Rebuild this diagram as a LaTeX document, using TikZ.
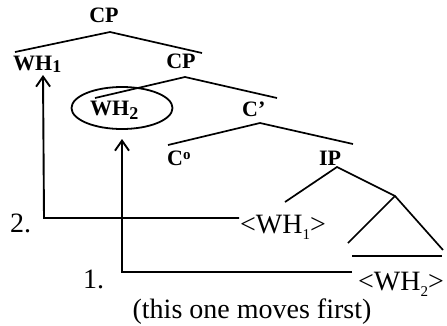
\documentclass[tikz,border=0pt]{standalone}
\usepackage{fontspec}
\setmainfont{Liberation Serif}
\usetikzlibrary{arrows.meta,shapes.geometric}
\begin{document}
\begin{tikzpicture}[x=1pt,y=-1pt,
  bold/.style={font=\fontsize{22}{22}\selectfont\bfseries, inner sep=0pt},
  plain/.style={font=\fontsize{28}{28}\selectfont, inner sep=0pt},
  branch/.style={line width=1.7pt},
  movearrow/.style={line width=1.9pt, -{Straight Barb[length=10pt,width=14pt]}}]
\useasboundingbox (0,0) rectangle (447,325);
% category labels
\node[bold, anchor=base] (cp1) at (104,22) {CP};
\node[bold, anchor=base west] (wh1) at (13,70) {WH\raisebox{-2pt}{\fontsize{18}{18}\selectfont 1}};
\node[bold, anchor=base] (cp2) at (181,68) {CP};
\node[bold, anchor=base west] (wh2) at (90,115) {WH\raisebox{-4pt}{\fontsize{18}{18}\selectfont 2}};
\node[draw, ellipse, line width=1.8pt, minimum width=101pt, minimum height=42pt] (oval) at (122,108) {};
\node[bold, anchor=base west] (cbar) at (242,116) {C’};
\node[bold, anchor=base west] (czero) at (167,165) {C\raisebox{6pt}{\fontsize{15}{15}\selectfont o}};
\node[bold, anchor=base] (ip) at (330,165) {IP};
% traces
\node[plain, anchor=base west] (t1) at (240,233) {<WH\raisebox{-6pt}{\fontsize{15}{15}\selectfont 1}>};
\node[plain, anchor=base west] (t2) at (358,290) {<WH\raisebox{-6pt}{\fontsize{15}{15}\selectfont 2}>};
\node[plain, anchor=base west] (n2) at (10,232) {2.};
\node[plain, anchor=base west] (n1) at (83,288) {1.};
\node[plain, anchor=base] (note) at (252,318) {(this one moves first)};
% tree branches
\coordinate (a0) at (110,32); \coordinate (a1) at (15,52); \coordinate (a2) at (202,53);
\coordinate (b0) at (185,77); \coordinate (b1) at (95,98); \coordinate (b2) at (277,98);
\coordinate (c0) at (260,123); \coordinate (c1) at (168,145); \coordinate (c2) at (353,144);
\coordinate (d0) at (337,167); \coordinate (d1) at (285,202); \coordinate (d2) at (395,196);
\coordinate (e1) at (348,243); \coordinate (e2) at (443,250);
\coordinate (f1) at (352,256); \coordinate (f2) at (442,256);
\draw[branch] (a1) -- (a0) -- (a2);
\draw[branch] (b1) -- (b0) -- (b2);
\draw[branch] (c1) -- (c0) -- (c2);
\draw[branch] (d1) -- (d0) -- (d2);
\draw[branch] (e1) -- (d2) -- (e2);
\draw[branch] (f1) -- (f2);
% movement arrows
\coordinate (m1s) at (239,218); \coordinate (m1c) at (44,218); \coordinate (m1e) at (43,75);
\coordinate (m2s) at (352,272); \coordinate (m2c) at (122,272); \coordinate (m2e) at (122,139);
\draw[movearrow] (m1s) -- (m1c) -- (m1e);
\draw[movearrow] (m2s) -- (m2c) -- (m2e);
\end{tikzpicture}
\end{document}
